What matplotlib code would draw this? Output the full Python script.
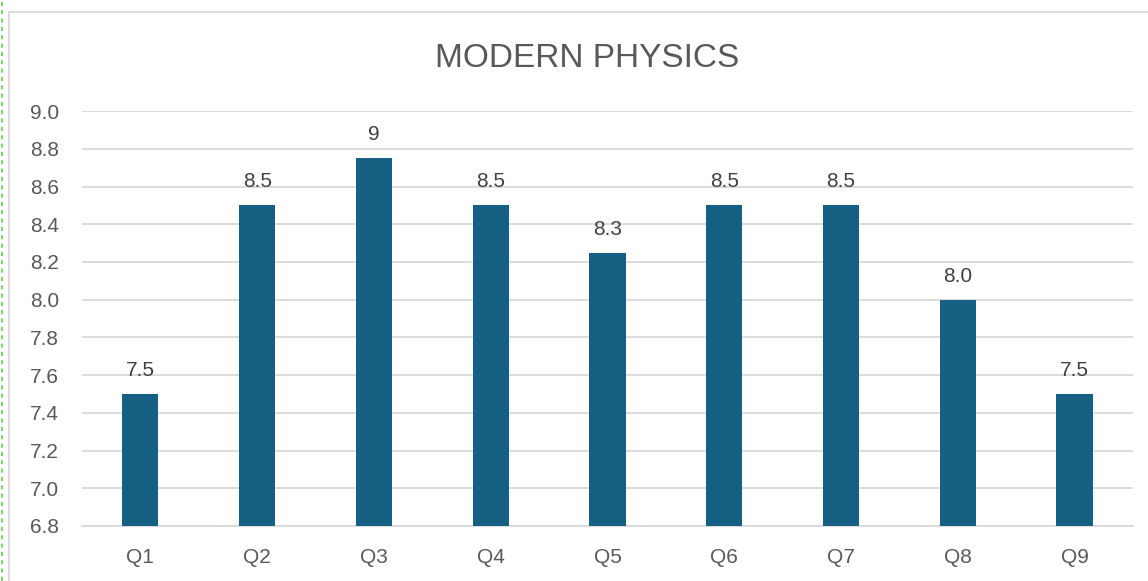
import matplotlib
matplotlib.use("Agg")
import matplotlib.pyplot as plt
from matplotlib.patches import Rectangle
from matplotlib.lines import Line2D
import numpy as np

plt.rcParams['font.family'] = ['Liberation Sans', 'DejaVu Sans']

# data
categories = ['Q1', 'Q2', 'Q3', 'Q4', 'Q5', 'Q6', 'Q7', 'Q8', 'Q9']
scores = [7.5, 8.5, 8.75, 8.5, 8.25, 8.5, 8.5, 8.0, 7.5]
value_labels = ['7.5', '8.5', '9', '8.5', '8.3', '8.5', '8.5', '8.0', '7.5']
y_ticks = [6.8, 7.0, 7.2, 7.4, 7.6, 7.8, 8.0, 8.2, 8.4, 8.6, 8.8, 9.0]

BAR_COLOR = '#166083'
TEXT_COLOR = '#595959'
GRID_COLOR = '#D9D9D9'

fig = plt.figure(figsize=(11.48, 5.81), dpi=100)
ax = fig.add_axes([0.0714, 0.0947, 0.9155, 0.714])

x = np.arange(len(categories))
bars = ax.bar(x, scores, width=0.31, color=BAR_COLOR, bottom=0, zorder=3)

for bar, lab in zip(bars, value_labels):
    ax.annotate(lab, (bar.get_x() + bar.get_width() / 2, bar.get_height()),
                xytext=(0, 13), textcoords='offset points',
                ha='center', va='baseline', fontsize=15, color='#404040')

ax.set_xlim(-0.5, len(categories) - 0.5)
ax.set_ylim(6.8, 9.0)
ax.set_yticks(y_ticks)
ax.set_yticklabels([f'{t:.1f}' for t in y_ticks])
ax.set_xticks(x)
ax.set_xticklabels(categories)
ax.tick_params(axis='both', length=0, labelsize=15, labelcolor=TEXT_COLOR)
ax.tick_params(axis='y', pad=16.5)
ax.tick_params(axis='x', pad=16)
ax.yaxis.grid(True, color=GRID_COLOR, linewidth=1.3, zorder=0)
ax.set_axisbelow(True)
for s in ['top', 'right', 'left']:
    ax.spines[s].set_visible(False)
ax.spines['bottom'].set_color(GRID_COLOR)
ax.spines['bottom'].set_linewidth(1.3)

fig.text(0.511, 0.90, 'MODERN PHYSICS', ha='center', va='center',
         fontsize=24, color=TEXT_COLOR)

# chart border and dashed selection edge
fig.patches.append(Rectangle((9 / 1148, -0.1), 1.2, (581 - 12) / 581 + 0.1,
                             transform=fig.transFigure, fill=False,
                             edgecolor='#D9D9D9', linewidth=1.3))
fig.lines.append(Line2D([1.5 / 1148, 1.5 / 1148], [0, 1], transform=fig.transFigure,
                        color='#86CF72', linestyle=(0, (2, 2)), linewidth=1.5))

fig.savefig('out.png', dpi=100, facecolor='white')
